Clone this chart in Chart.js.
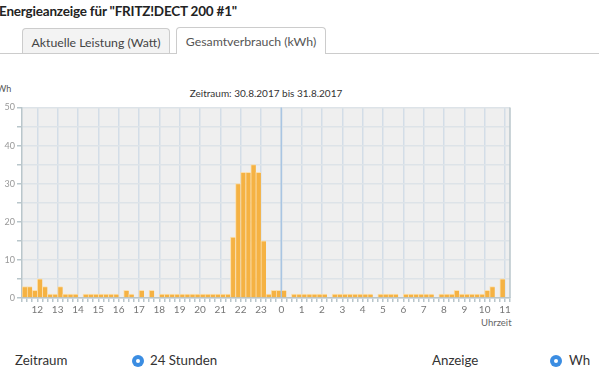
<!DOCTYPE html>
<html lang="de">
<head>
<meta charset="utf-8">
<title>Energieanzeige</title>
<script src="https://cdn.jsdelivr.net/npm/chart.js@4.4.1/dist/chart.umd.min.js"></script>
<style>
  html, body { margin: 0; padding: 0; background: #fff; }
  body { width: 599px; height: 384px; overflow: hidden; position: relative; font-family: Lato, "Open Sans", sans-serif; color: #333; }
  h1 { position: absolute; left: -1px; top: 3px; margin: 0; font-size: 13.5px; letter-spacing: -0.2px; font-weight: bold; color: #222; white-space: nowrap; }
  .tabline { position: absolute; left: 0; top: 53px; width: 599px; border-top: 1px solid #ccc; }
  .tab { position: absolute; top: 28px; height: 25px; border: 1px solid #ccc; border-bottom: none; border-radius: 4px 4px 0 0; font-size: 12.3px; line-height: 27px; text-align: center; color: #444; box-sizing: border-box; }
  #tab1 { left: 22px; width: 148px; background: #f3f3f3; }
  #tab2 { left: 176px; width: 150px; top: 27px; height: 27px; background: #fff; color: #555; }
  .lbl { position: absolute; white-space: nowrap; }
  #chartWrap { position: absolute; left: 0; top: 100px; width: 520px; height: 222px; }
  .radio { position: absolute; width: 12px; height: 12px; border-radius: 50%; background: #3b8de2; }
  .radio::after { content: ""; position: absolute; left: 4px; top: 4px; width: 4px; height: 4px; border-radius: 50%; background: #fff; }
  .foot { font-size: 13.3px; top: 352px; }
</style>
</head>
<body>
<h1>Energieanzeige für "FRITZ!DECT 200 #1"</h1>
<div class="tabline"></div>
<div class="tab" id="tab1">Aktuelle Leistung (Watt)</div>
<div class="tab" id="tab2">Gesamtverbrauch (kWh)</div>

<div class="lbl" style="left:-3px; top:83px; font-size:9px; color:#555;">Wh</div>
<div class="lbl" style="left:0; width:532px; top:87px; text-align:center; font-size:10px; color:#333;">Zeitraum: 30.8.2017 bis 31.8.2017</div>
<div class="lbl" style="left:481px; top:317px; font-size:9.5px; color:#666;">Uhrzeit</div>

<div id="chartWrap"><canvas id="energyChart"></canvas></div>

<div class="lbl foot" style="left:15px;">Zeitraum</div>
<div class="radio" style="left:132px; top:355px;"></div>
<div class="lbl foot" style="left:150px;">24 Stunden</div>
<div class="lbl foot" style="left:432px;">Anzeige</div>
<div class="radio" style="left:550px; top:355px;"></div>
<div class="lbl foot" style="left:569px;">Wh</div>

<script>
// 15-minute slots, 30.8. 11:15 until 31.8. 11:00
const quarterLabels = [
    '11:15', '11:30', '11:45',
    '12:00', '12:15', '12:30', '12:45',
    '13:00', '13:15', '13:30', '13:45',
    '14:00', '14:15', '14:30', '14:45',
    '15:00', '15:15', '15:30', '15:45',
    '16:00', '16:15', '16:30', '16:45',
    '17:00', '17:15', '17:30', '17:45',
    '18:00', '18:15', '18:30', '18:45',
    '19:00', '19:15', '19:30', '19:45',
    '20:00', '20:15', '20:30', '20:45',
    '21:00', '21:15', '21:30', '21:45',
    '22:00', '22:15', '22:30', '22:45',
    '23:00', '23:15', '23:30', '23:45',
    '0:00', '0:15', '0:30', '0:45',
    '1:00', '1:15', '1:30', '1:45',
    '2:00', '2:15', '2:30', '2:45',
    '3:00', '3:15', '3:30', '3:45',
    '4:00', '4:15', '4:30', '4:45',
    '5:00', '5:15', '5:30', '5:45',
    '6:00', '6:15', '6:30', '6:45',
    '7:00', '7:15', '7:30', '7:45',
    '8:00', '8:15', '8:30', '8:45',
    '9:00', '9:15', '9:30', '9:45',
    '10:00', '10:15', '10:30', '10:45',
    '11:00'
];

// Verbrauch je Viertelstunde in Wh
const energyWh = [
    3, 3, 2,
    5, 3, 1, 1,
    3, 1, 1, 1,
    0, 1, 1, 1,
    1, 1, 1, 1,
    0, 2, 1, 0,
    2, 0, 2, 0,
    1, 1, 1, 1,
    1, 1, 1, 1,
    1, 1, 1, 1,
    1, 1, 16, 30,
    33, 33, 35, 33,
    15, 1, 2, 2,
    2, 0, 1, 1,
    1, 1, 1, 1,
    1, 0, 1, 1,
    1, 1, 1, 1,
    1, 1, 0, 1,
    1, 1, 1, 0,
    1, 1, 1, 1,
    1, 1, 0, 1,
    1, 1, 2, 1,
    1, 1, 1, 1,
    2, 3, 0, 5,
    0
];

const yMax = 50;
const yStep = 5;
const midnightLabel = '0:00';

// grey plot background, midnight marker and right frame
const plotDecor = {
    id: 'plotDecor',
    beforeDraw(chart) {
        const { ctx, chartArea: a } = chart;
        ctx.save();
        ctx.fillStyle = '#efefef';
        ctx.fillRect(a.left, a.top, a.right - a.left, a.bottom - a.top);
        ctx.restore();
    },
    afterDatasetsDraw(chart) {
        const { ctx, chartArea: a, scales } = chart;
        const i = quarterLabels.indexOf(midnightLabel);
        const x = (scales.x.getPixelForValue(i - 1) + scales.x.getPixelForValue(i)) / 2;
        ctx.save();
        ctx.strokeStyle = '#a9c5e2';
        ctx.lineWidth = 1.5;
        ctx.beginPath();
        ctx.moveTo(x, a.top);
        ctx.lineTo(x, a.bottom);
        ctx.stroke();
        ctx.strokeStyle = '#b9c6cb';
        ctx.lineWidth = 1.5;
        ctx.beginPath();
        ctx.moveTo(a.right, a.top);
        ctx.lineTo(a.right, a.bottom);
        ctx.stroke();
        ctx.restore();
    }
};

const isHour = (i) => i !== undefined && quarterLabels[i] && quarterLabels[i].endsWith(':00');

const energyChart = new Chart(document.getElementById('energyChart'), {
    type: 'bar',
    data: {
        labels: quarterLabels,
        datasets: [{
            label: 'Wh',
            data: energyWh,
            backgroundColor: '#f5b243',
            borderColor: 'rgba(252,222,170,0.95)',
            borderWidth: { left: 1, top: 1, right: 0, bottom: 0 },
            borderSkipped: false,
            barPercentage: 1,
            categoryPercentage: 1
        }]
    },
    options: {
        responsive: true,
        maintainAspectRatio: false,
        animation: false,
        layout: { padding: { top: 7.5, right: 10, left: 0, bottom: 0 } },
        plugins: {
            legend: { display: false },
            title: { display: false },
            tooltip: { enabled: false }
        },
        scales: {
            x: {
                afterFit(scale) { scale.height = 24; },
                grid: {
                    offset: true,
                    color: (ctx) => isHour(ctx.index) ? '#d3dde7' : 'rgba(0,0,0,0)',
                    lineWidth: 1.5,
                    tickColor: '#b9c6cb',
                    tickLength: 4,
                    drawTicks: true
                },
                border: { color: '#b9c6cb', width: 1.5 },
                ticks: {
                    autoSkip: false,
                    maxRotation: 0,
                    minRotation: 0,
                    padding: 2,
                    labelOffset: -2.5,
                    color: '#777',
                    font: { family: 'Lato, sans-serif', size: 10 },
                    callback: function (value, index) {
                        const lbl = quarterLabels[index];
                        return lbl.endsWith(':00') ? lbl.split(':')[0] : '';
                    }
                }
            },
            y: {
                min: 0,
                max: yMax,
                afterFit(scale) { scale.width = 22; },
                grid: {
                    color: '#dde3e8',
                    lineWidth: 1.5,
                    tickColor: '#b9c6cb',
                    tickLength: 5
                },
                border: { color: '#b9c6cb', width: 1.5 },
                ticks: {
                    stepSize: yStep,
                    padding: 2,
                    color: '#999',
                    font: { family: 'Lato, sans-serif', size: 9 },
                    callback: (v) => (v % 10 === 0 ? v : '')
                }
            }
        }
    },
    plugins: [plotDecor]
});
</script>
</body>
</html>
